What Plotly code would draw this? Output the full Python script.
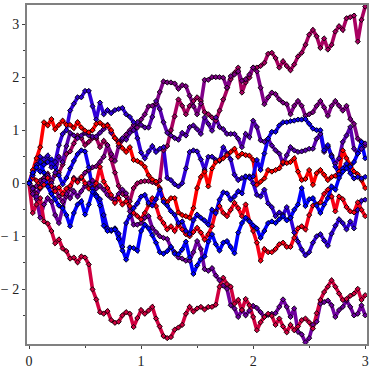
import numpy as np
import plotly.graph_objects as go

t = np.linspace(0, 3, 91)

path_red = [0, .25, .47, .68, 1.15, 1.09, 1.21, 1.02, 1.10, 1.18,
            1.10, 1.10, 1.04, 1.15, 1.05, .99, .96, 1.0, 1.12, 1.14,
            1.08, 1.09, 1.0, .85, .75, .66, .59, .68, .44, .42,
            .38, .31, .15, .07, .03, -.09, -.30, -.36, -.28, -.28,
            -.55, -.60, -.62, -.65, -.47, -.09, .12, .22, -.06, .28,
            .40, .44, .47, .53, .59, .65, .50, .56, .53, .52,
            .44, -.03, .03, .09, .25, .22, .25, .28, .40, .38,
            .40, .47, .22, .06, .08, .25, -.03, .19, .25, .16,
            .06, .12, .14, .22, .62, .47, .34, .22, .17, .06, -.09]

path_red2 = [0, .1, .05, -.08, -.03, .1, -.05, -.15, -.08, -.2,
             -.1, -.05, .08, .02, .12, 0, -.1, -.08, 0, .31,
             .03, -.09, -.22, -.37, -.28, -.4, -.34, -.43, -.56, -.62,
             -.68, -.56, -.4, -.28, -.43, -.65, -.75, -.87, -.81, -.9,
             -.78, -.87, -.96, -1.0, -.92, -.84, -.93, -1.06, -.96, -.81,
             -.53, -.43, -.56, -.62, -.5, -.37, -.47, -.62, -.40, -.71,
             -.90, -1.12, -1.46, -1.24, -1.3, -1.3, -1.24, -1.15, -1.12, -1.2,
             -1.2, -1.03, -.85, -.81, -.87, -.6, -.42, -.4, -.36, -.2,
             -.12, -.25, -.53, -.25, -.3, -.45, -.53, -.55, -.36, -.5, -.62]

path_crimson = [0, -.56, -.40, -.28, -.72, -.76, -.90, -1.13, -1.06, -1.23,
                -1.28, -1.42, -1.40, -1.49, -1.38, -1.40, -1.53, -2.0, -2.19, -2.43,
                -2.46, -2.41, -2.58, -2.63, -2.61, -2.49, -2.43, -2.46, -2.71, -2.54,
                -2.39, -2.46, -2.40, -2.33, -2.55, -2.70, -2.88, -2.92, -2.90, -2.76,
                -2.72, -2.67, -2.46, -2.33, -2.42, -2.36, -2.33, -2.38, -2.33, -2.33,
                -2.29, -1.95, -1.78, -1.90, -1.95, -2.27, -2.2, -2.39, -2.18, -2.3,
                -2.52, -2.77, -2.62, -2.52, -2.46, -2.5, -2.67, -2.55, -2.7, -2.81,
                -2.67, -2.77, -2.7, -2.58, -2.55, -2.62, -2.74, -2.45, -2.2, -2.05,
                -1.95, -1.83, -1.95, -2.08, -2.2, -2.18, -2.12, -2.08, -1.99, -2.2, -2.11]

path_magenta = [0, -.08, -.2, -.1, .1, .18, .05, .15, .2, .35,
                .55, .6, .75, .9, .85, .72, .78, .85, .85, .68,
                .8, .72, .45, .2, -.05, -.2, -.25, -.34, -.09, 0,
                .03, .04, .04, .02, 0, .05, .62, .7, 1.0, 1.26,
                1.58, 1.46, 1.30, 1.46, 1.55, 1.62, 1.55, 1.34, 1.30, 1.24,
                1.18, 1.37, 1.58, 1.80, 1.96, 2.08, 2.18, 1.71, 1.90, 1.99,
                2.18, 2.18, 2.21, 2.27, 2.44, 2.46, 2.36, 2.18, 2.30, 2.21,
                2.13, 2.24, 2.39, 2.46, 2.61, 2.80, 2.89, 2.77, 2.55, 2.73,
                2.52, 2.61, 2.86, 2.96, 2.89, 3.11, 3.13, 3.16, 2.67, 3.08, 3.33]

path_purple = [0, -.15, -.05, .05, .1, -.05, -.2, -.1, -.25, -.35,
               -.25, -.1, .1, .05, .1, .2, .25, .3, .32, .4,
               .5, .72, .55, .42, .7, .82, .92, 1.0, 1.1, 1.05,
               1.2, 1.3, 1.45, 1.46, 1.5, 1.72, 1.92, 1.9, 1.9, 1.88,
               1.78, 1.85, 1.83, 1.65, 1.45, 1.3, 1.5, 1.95, 1.95, 2.0,
               2.0, 2.0, 1.99, 1.8, 2.02, 2.05, 2.11, 1.93, 1.96, 2.05,
               2.18, 2.11, 1.8, 1.49, 1.62, 1.71, 1.68, 1.58, 1.52, 1.49,
               1.3, 1.46, 1.55, 1.46, 1.27, 1.3, 1.34, 1.46, 1.55, 1.43,
               1.27, 1.46, 1.55, 1.46, 1.37, 1.46, 1.21, 1.12, .84, .78, .71]

path_violet = [0, -.2, -.3, -.65, -.4, -.28, -.35, -.6, -.75, -.45,
               -.2, -.28, -.15, -.25, -.15, -.05, 0, .05, -.1, -.05,
               -.12, -.22, -.28, -.31, -.2, -.12, -.19, -.53, -.78, -.78,
               -.75, -.65, -.62, -.84, -.92, -1.0, -1.03, -1.05, -1.21, -1.3,
               -1.4, -1.42, -1.46, -1.46, -1.3, -1.09, -1.24, -1.62, -1.65, -1.6,
               -1.74, -1.83, -1.93, -1.99, -2.3, -2.36, -2.52, -2.39, -2.49, -2.4,
               -2.31, -2.35, -2.43, -2.52, -2.48, -2.46, -2.45, -2.33, -2.19, -2.33,
               -2.52, -2.36, -2.8, -2.85, -3.0, -2.92, -2.67, -2.61, -2.27, -2.24,
               -2.21, -2.3, -2.52, -2.39, -2.33, -2.21, -2.33, -2.49, -2.46, -2.3, -2.49]

path_indigo = [0, -.1, -.25, -.05, .05, .15, 0, .2, .5, .4,
               .7, .95, .9, .85, .9, .95, .9, .88, .88, .95,
               1.02, 1.1, .95, .85, .78, .85, .82, .95, 1.0, 1.15,
               1.1, 1.05, 1.05, 1.25, 1.55, 1.4, 1.15, .95, .9, .85,
               .82, .95, .9, 1.06, 1.09, 1.02, .93, 1.24, 1.12, .99,
               1.24, 1.06, 1.02, .93, .93, .93, .84, .68, .93, .87,
               1.18, 1.06, .81, .78, .84, .71, .62, .56, .37, .53,
               .68, .62, .59, .6, .62, .65, .65, .84, .93, .59,
               .69, .53, .37, .47, .78, .9, 1.06, .65, .56, .65, .75]

path_deep = [0, .2, .35, .5, .45, .52, .3, .4, .72, .93,
             1.0, 1.37, 1.5, 1.62, 1.62, 1.74, 1.74, 1.45, 1.2, 1.52,
             1.3, 1.38, 1.32, 1.38, 1.4, 1.42, 1.3, 1.25, 1.15, .85,
             .58, .47, .6, .7, .59, .65, .68, .1, .06, -.02,
             -.06, 0, .28, .59, .62, .6, .45, .25, .5, .5,
             .44, .42, .68, .55, .45, .16, .06, .1, .12, .13,
             0, -.22, -.25, -.12, -.38, -.45, -.62, -.55, -.6, -.45,
             -.65, -.93, -1.1, -1.25, -1.36, -1.3, -1.12, -1.0, -.96, -1.08,
             -1.18, -.95, -.8, -.68, -.75, -.87, -.72, -.85, -.5, -.33, -.31]

path_blue2 = [0, .15, .3, .22, .35, .4, .45, .3, .15, -.02,
              .1, .28, .42, .55, .62, .6, .3, -.1, -.22, -.3,
              -.6, -.85, -.9, -.85, -.95, -1.2, -.75, -.62, -.47, -.38,
              -.25, -.22, -.37, -.42, -.3, -.12, -.35, -.42, -.53, -.6,
              -.75, -.72, -.9, -.96, -.7, -.59, -.65, -.7, -.78, -.5,
              -.56, -.31, -.17, -.19, -.31, -.25, -.15, -.19, .13, .1,
              .13, .44, .25, .56, .84, .97, .97, 1.09, 1.15, 1.15,
              1.17, 1.18, 1.2, 1.2, 1.21, 1.12, 1.03, 1.0, 1.0, .62,
              .72, .5, .31, .16, .28, .37, .19, .09, .12, .09, .12]

path_blue = [0, .2, .3, .4, .2, -.06, -.2, -.3, -.42, -.47,
             -.6, -.81, -.56, -.4, -.34, -.59, -.4, -.16, -.25, -.42,
             -.8, -.9, -.88, -.87, -1.05, -1.27, -1.44, -1.21, -1.22, -1.27,
             -.9, -.78, -.85, -.98, -1.12, -1.3, -1.33, -1.28, -1.2, -1.33,
             -1.34, -1.25, -1.1, -1.4, -1.71, -1.55, -1.43, -1.38, -1.1, -.96,
             -1.15, -1.27, -1.12, -1.09, -1.2, -1.32, -.93, -.75, -.65, -.72,
             -.8, -.85, -1.03, -.9, -.75, -.72, -.75, -.68, -.62, -.7,
             -.65, -.5, -.4, -.09, -.43, -.3, -.28, -.42, -.56, -.4,
             -.28, -.06, -.12, .1, .22, .28, .31, .4, .56, .78, .47]

series = [path_magenta, path_purple, path_violet, path_crimson, path_indigo,
          path_deep, path_red, path_red2, path_blue2, path_blue]
colors = ["#a80060", "#800088", "#7000a0", "#d00040", "#5800b0",
          "#3000d8", "#ff0000", "#f80018", "#1000f0", "#0000ff"]

fig = go.Figure()
for y, c in zip(series, colors):
    fig.add_trace(go.Scatter(x=t, y=y, mode="lines",
                             line=dict(color=c, width=3.6)))
# the diamonds sit above every line in the reference, so they get their own pass
for y, c in zip(series, colors):
    fig.add_trace(go.Scatter(x=t, y=y, mode="markers",
                             marker=dict(symbol="diamond", size=4, color=c,
                                         line=dict(color="#000000", width=0.9))))

axis_style = dict(showline=True, mirror=True, linecolor="#808080", linewidth=2,
                  showgrid=False, zeroline=False, ticks="outside", ticklen=3,
                  tickcolor="#404040", tickwidth=1)
fig.update_xaxes(range=[-0.018, 3.016], tickvals=[0, 1, 2, 3], ticktext=["0", "1", "2", "3"],
                 minor=dict(tickvals=[0.5, 1.5, 2.5], ticks="outside", ticklen=2, tickcolor="#404040"),
                 **axis_style)
fig.update_yaxes(range=[-3.03, 3.36], tickvals=[-2, -1, 0, 1, 2, 3],
                 ticktext=["− 2", "− 1", "0", "1", "2", "3"],
                 minor=dict(tickvals=[-2.5, -1.5, -0.5, 0.5, 1.5, 2.5], ticks="outside", ticklen=2, tickcolor="#404040"),
                 **axis_style)
fig.update_layout(width=370, height=370, showlegend=False, plot_bgcolor="white", paper_bgcolor="white",
                  margin=dict(l=25, r=1, t=5, b=23),
                  font=dict(family="Liberation Serif", size=14, color="#222222"))
# the page's default body margin would push the plot off the window
fig.write_html("out.html", config=dict(displayModeBar=False),
               post_script="document.body.style.margin='0';document.documentElement.style.overflow='hidden';")
